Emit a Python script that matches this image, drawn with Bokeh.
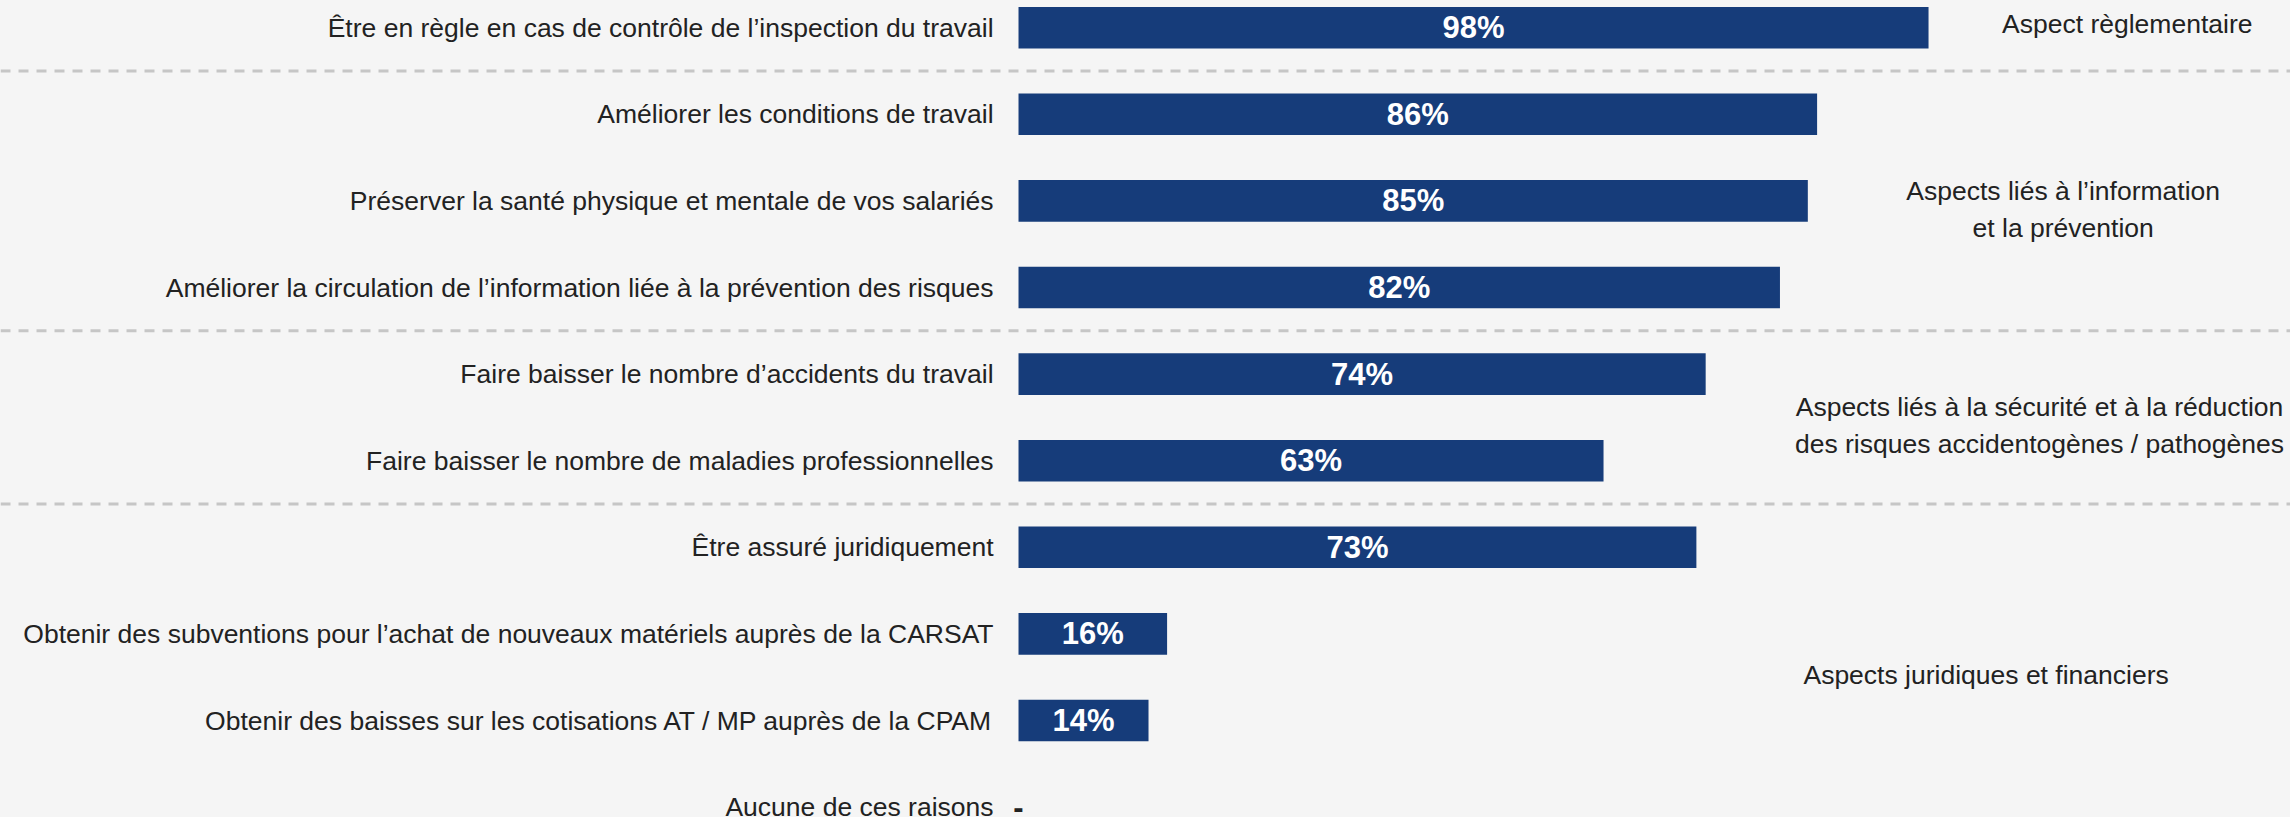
from bokeh.plotting import figure
from bokeh.models import ColumnDataSource, Range1d, Span
from bokeh.core.properties import value
from bokeh.embed import file_html
from bokeh.resources import INLINE

categories = [
    "Être en règle en cas de contrôle de l’inspection du travail",
    "Améliorer les conditions de travail",
    "Préserver la santé physique et mentale de vos salariés",
    "Améliorer la circulation de l’information liée à la prévention des risques",
    "Faire baisser le nombre d’accidents du travail",
    "Faire baisser le nombre de maladies professionnelles",
    "Être assuré juridiquement",
    "Obtenir des subventions pour l’achat de nouveaux matériels auprès de la CARSAT",
    "Obtenir des baisses sur les cotisations AT / MP auprès de la CPAM",
    "Aucune de ces raisons",
]
values = [98, 86, 85, 82, 74, 63, 73, 16, 14, 0]
value_labels = ["98%", "86%", "85%", "82%", "74%", "63%", "73%", "16%", "14%", "-"]

group_labels = [
    "Aspect règlementaire",
    "Aspects liés à l’information\net la prévention",
    "Aspects liés à la sécurité et à la réduction\ndes risques accidentogènes / pathogènes",
    "Aspects juridiques et financiers",
]
group_x = [119.4, 112.5, 109.95, 104.2]
group_y = [-0.045, 2.098, 4.596, 7.472]
separators = [0.5, 3.5, 5.5]

BG = "#f5f5f5"
BAR = "#163c7a"
TXT = "#222222"
FONT = "Liberation Sans"

idx = list(range(len(categories)))
src = ColumnDataSource(dict(
    y=idx,
    v=values,
    cat=categories,
    lab=value_labels,
    mid=[v / 2 for v in values],
    labcol=["#ffffff" if v > 0 else TXT for v in values],
))

p = figure(width=2290, height=817, output_backend="svg", toolbar_location=None,
           x_range=Range1d(-109.63, 136.98), y_range=Range1d(9.12, -0.3141),
           min_border=0, background_fill_color=BG, border_fill_color=BG)
p.axis.visible = False
p.grid.visible = False
p.outline_line_color = None

for s in separators:
    p.add_layout(Span(location=s, dimension="width", line_color="#c6c6c6",
                      line_width=3, line_dash="10 8"))

p.hbar(y="y", left=0, right="v", height=0.48, source=src,
       fill_color=BAR, line_color=None)

p.text(x=-2.69, y="y", text="cat", source=src, text_align="right",
       text_baseline="middle", text_font=value(FONT), text_font_size="26.5px",
       text_color=TXT)

p.text(x="mid", y="y", text="lab", source=src, text_align="center",
       text_baseline="middle", text_font=value(FONT), text_font_size="31px",
       text_font_style="bold", text_color="labcol")

gsrc = ColumnDataSource(dict(x=group_x, y=group_y, t=group_labels))
p.text(x="x", y="y", text="t", source=gsrc, text_align="center",
       text_baseline="middle", text_font=value(FONT), text_font_size="26.5px",
       text_color=TXT, text_line_height=1.22)

html = file_html(p, INLINE)
html = html.replace("<head>", "<head><style>html,body{background:#f5f5f5;}</style>", 1)
open("out.html", "w").write(html)
